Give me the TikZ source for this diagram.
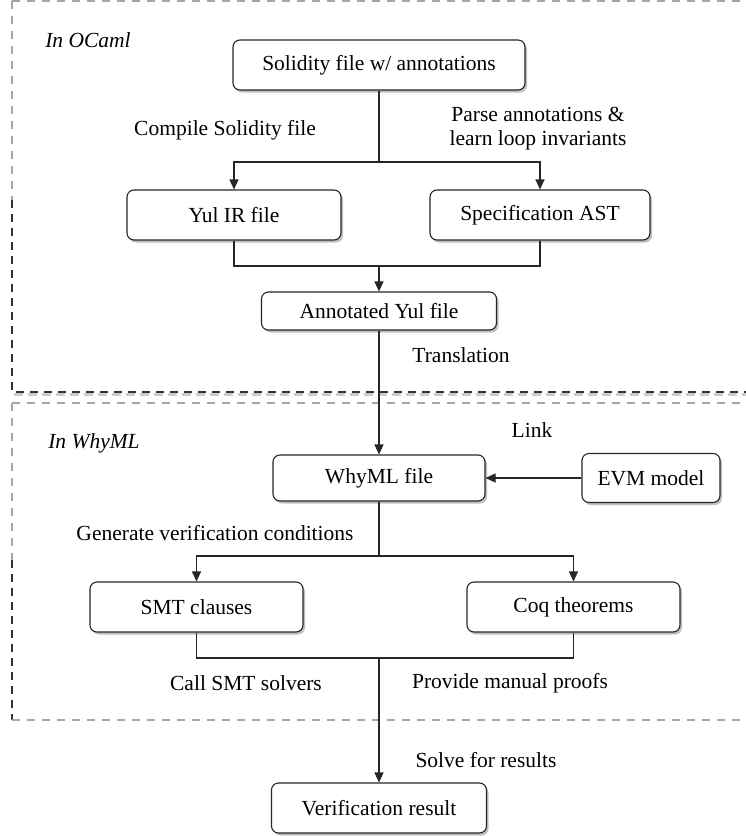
\documentclass[tikz,border=0pt]{standalone}
\usepackage{fontspec}
\setmainfont{Liberation Serif}
\usetikzlibrary{arrows.meta,shadows}
\begin{document}
\begin{tikzpicture}[x=1pt,y=-1pt,
  box/.style={draw=black!85, line width=1.1pt, rounded corners=7pt, fill=white,
    minimum height=50pt, inner sep=0pt, font=\fontsize{21.5}{25}\selectfont,
    drop shadow={shadow xshift=2pt, shadow yshift=-2.5pt, fill=black, opacity=0.25}},
  lab/.style={font=\fontsize{21.5}{24}\selectfont, align=center, inner sep=0pt},
  ttl/.style={font=\fontsize{21.5}{24}\selectfont\itshape, inner sep=0pt},
  ln/.style={line width=1.1pt, draw=black!85},
  arr/.style={ln, -{Triangle[length=10pt,width=9pt]}},
  darkdash/.style={line width=2pt, draw=black!80, dash pattern=on 8pt off 6pt},
  darkshadow/.style={line width=3pt, draw=black, opacity=0.2, dash pattern=on 9pt off 5pt},
  graydash/.style={line width=1.3pt, draw=black!35, dash pattern=on 8pt off 7pt}]
\useasboundingbox (0,0) rectangle (746,836);
\clip (0,0) rectangle (746,836);
\fill[white] (0,0) rectangle (746,836);

% region frames
\draw[graydash] (12,1) -- (760,1);
\draw[graydash] (12,1) -- (12,200);
\draw[darkshadow] (14,394.5) -- (760,394.5);
\draw[darkdash] (12,200) -- (12,392) -- (760,392);
\draw[graydash] (12,403) -- (760,403);
\draw[graydash] (12,403) -- (12,560);
\draw[darkdash] (12,560) -- (12,720);
\draw[graydash] (12,720) -- (760,720);

\node[ttl] (tocaml) at (88,40) {In OCaml};
\node[ttl] (twhy) at (94,443) {In WhyML};

% boxes
\node[box, minimum width=292pt] (sol) at (379,65) {Solidity file w/ annotations};
\node[box, minimum width=214pt] (yul) at (234,215) {Yul IR file};
\node[box, minimum width=220pt] (spec) at (540,215) {Specification AST};
\node[box, minimum width=235pt, minimum height=38pt] (ann) at (379,311) {Annotated Yul file};
\node[box, minimum width=212pt, minimum height=46pt] (why) at (379,478) {WhyML file};
\node[box, minimum width=138pt, minimum height=49pt] (evm) at (651,478) {EVM model};
\node[box, minimum width=213pt] (smt) at (196.5,607) {SMT clauses};
\node[box, minimum width=213pt] (coq) at (573.5,607) {Coq theorems};
\node[box, minimum width=215pt] (ver) at (379,808) {Verification result};

% labels
\node[lab] (lcomp) at (225,130) {Compile Solidity file};
\node[lab] (lparse) at (538,129) {Parse annotations \&\\learn loop invariants};
\node[lab] (ltrans) at (461,355) {Translation};
\node[lab] (llink) at (532,430) {Link};
\node[lab] (lgen) at (215,533) {Generate verification conditions};
\node[lab] (lcall) at (246,683) {Call SMT solvers};
\node[lab] (lprov) at (510,683) {Provide manual proofs};
\node[lab] (lsolve) at (486,760) {Solve for results};

% junctions
\coordinate (j1) at (379,162);
\coordinate (j2) at (379,266);
\coordinate (j3) at (379,556);
\coordinate (j4) at (379,658);

% connectors
\draw[ln] (sol.south) -- (j1);
\draw[arr] (j1) -| (yul.north);
\draw[arr] (j1) -| (spec.north);
\draw[ln] (yul.south) |- (j2) -| (spec.south);
\draw[arr] (j2) -- (ann.north);
\draw[arr] (ann.south) -- (why.north);
\draw[arr] (evm.west) -- (why.east);
\draw[ln] (why.south) -- (j3);
\draw[arr] (j3) -| (smt.north);
\draw[arr] (j3) -| (coq.north);
\draw[ln] (smt.south) |- (j4) -| (coq.south);
\draw[arr] (j4) -- (ver.north);
\end{tikzpicture}
\end{document}
